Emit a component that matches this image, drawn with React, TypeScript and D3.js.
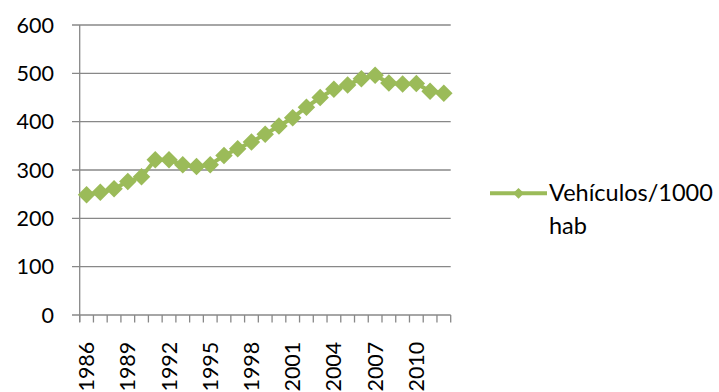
import React from "react";
import * as d3 from "d3";

const years: string[] = [
  "1986","1987","1988","1989","1990","1991","1992","1993","1994","1995",
  "1996","1997","1998","1999","2000","2001","2002","2003","2004","2005",
  "2006","2007","2008","2009","2010","2011","2012",
];
const vehicles: number[] = [
  249, 254, 261, 276, 286, 321, 321, 311, 307, 311,
  330, 344, 358, 374, 391, 408, 430, 450, 467, 476,
  489, 496, 480, 478, 479, 463, 459,
];
const yTicks: number[] = [0, 100, 200, 300, 400, 500, 600];
const seriesName = "Vehículos/1000";
const seriesName2 = "hab";

const W = 719;
const H = 392;
const FONT = "Lato, 'Open Sans', sans-serif";
const GREEN = "#9BBB59";
const GRID = "#888888";

export default function App() {
  const x = d3.scaleBand<string>().domain(years).range([79.7, 450.7]).padding(0);
  const y = d3.scaleLinear().domain([0, 600]).range([315, 25]);
  const cx = (d: string) => (x(d) ?? 0) + x.bandwidth() / 2;

  const line = d3
    .line<number>()
    .x((_, i) => cx(years[i]))
    .y((v) => y(v));

  const diamond = d3.symbol().type(d3.symbolDiamond2).size(195)();
  const legendDiamond = d3.symbol().type(d3.symbolDiamond2).size(75)();

  const xEdges = years.map((d) => x(d) ?? 0).concat([x.range()[1]]);

  return (
    <svg
      width={W}
      height={H}
      style={{ position: "absolute", left: 0, top: 0, background: "#fff" }}
      fontFamily={FONT}
    >
      {/* horizontal gridlines with their ticks */}
      {yTicks.map((t) => (
        <g key={t}>
          <line x1={72} x2={450.7} y1={y(t)} y2={y(t)} stroke={GRID} strokeWidth={1.3} />
          <text
            x={54}
            y={y(t)}
            dy="0.35em"
            textAnchor="end"
            fontSize={21.5}
            fill="#000"
          >
            {t}
          </text>
        </g>
      ))}
      {/* vertical axis */}
      <line x1={79.7} x2={79.7} y1={25} y2={322} stroke={GRID} strokeWidth={1.3} />
      {/* category ticks */}
      {xEdges.map((e, i) => (
        <line key={i} x1={e} x2={e} y1={315} y2={322.5} stroke={GRID} strokeWidth={1.3} />
      ))}
      {/* category labels, every third year */}
      {years.map((d, i) =>
        i % 3 === 0 ? (
          <text
            key={d}
            transform={`translate(${cx(d)},341.7) rotate(-90)`}
            dy="0.35em"
            textAnchor="end"
            fontSize={21.5}
            fill="#000"
          >
            {d}
          </text>
        ) : null
      )}
      {/* series */}
      <path d={line(vehicles) ?? ""} fill="none" stroke={GREEN} strokeWidth={4} />
      {vehicles.map((v, i) => (
        <path key={i} d={diamond ?? ""} transform={`translate(${cx(years[i])},${y(v)})`} fill={GREEN} />
      ))}
      {/* legend */}
      <line x1={490} x2={547} y1={193.3} y2={193.3} stroke={GREEN} strokeWidth={4} />
      <path d={legendDiamond ?? ""} transform="translate(518.5,193.3)" fill={GREEN} />
      <text x={549} y={201} fontSize={23.5} fill="#000">
        {seriesName}
      </text>
      <text x={549} y={234} fontSize={23.5} fill="#000">
        {seriesName2}
      </text>
    </svg>
  );
}
